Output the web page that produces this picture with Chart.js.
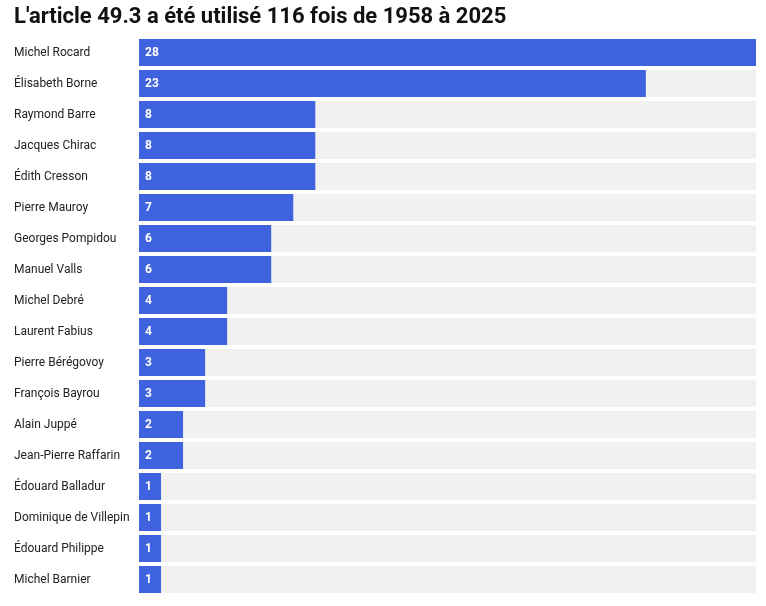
<!DOCTYPE html>
<html>
<head>
<meta charset="utf-8">
<script src="https://cdn.jsdelivr.net/npm/chart.js@4.4.1/dist/chart.umd.min.js"></script>
<style>
  html, body { margin: 0; padding: 0; background: #fff; }
  #wrap { width: 766px; height: 606px; }
</style>
</head>
<body>
<div id="wrap"><canvas id="chart"></canvas></div>
<script>
// Prime ministers and number of 49.3 uses
const names = [
    'Michel Rocard', 'Élisabeth Borne', 'Raymond Barre', 'Jacques Chirac',
    'Édith Cresson', 'Pierre Mauroy', 'Georges Pompidou', 'Manuel Valls',
    'Michel Debré', 'Laurent Fabius', 'Pierre Bérégovoy', 'François Bayrou',
    'Alain Juppé', 'Jean-Pierre Raffarin', 'Édouard Balladur',
    'Dominique de Villepin', 'Édouard Philippe', 'Michel Barnier'
];
const counts = [28, 23, 8, 8, 8, 7, 6, 6, 4, 4, 3, 3, 2, 2, 1, 1, 1, 1];
const maxValue = 28;

const titleText = "L'article 49.3 a été utilisé 116 fois de 1958 à 2025";
const barColor = '#3f62df';
const trackColor = '#f1f1f1';

// grey track behind every bar, full scale width
const trackPlugin = {
    id: 'track',
    beforeDatasetsDraw(chart) {
        const { ctx, scales: { x } } = chart;
        const meta = chart.getDatasetMeta(0);
        ctx.save();
        ctx.fillStyle = trackColor;
        meta.data.forEach(bar => {
            const left = x.getPixelForValue(0);
            const right = x.getPixelForValue(maxValue);
            ctx.fillRect(left, bar.y - bar.height / 2, right - left, bar.height);
        });
        ctx.restore();
    }
};

// value written inside the bar
const valuePlugin = {
    id: 'values',
    afterDatasetsDraw(chart) {
        const { ctx } = chart;
        const meta = chart.getDatasetMeta(0);
        ctx.save();
        ctx.fillStyle = '#ffffff';
        ctx.font = 'bold 12px Roboto';
        ctx.textBaseline = 'middle';
        ctx.textAlign = 'left';
        meta.data.forEach((bar, i) => {
            ctx.fillText(counts[i], bar.base + 6, bar.y + 0.5);
        });
        ctx.restore();
    }
};

new Chart(document.getElementById('chart'), {
    type: 'bar',
    data: {
        labels: names,
        datasets: [{
            data: counts,
            backgroundColor: barColor,
            borderWidth: 0,
            barPercentage: 1,
            categoryPercentage: 0.87
        }]
    },
    options: {
        indexAxis: 'y',
        responsive: true,
        maintainAspectRatio: false,
        animation: false,
        layout: {
            padding: { top: 0, left: 14, right: 10, bottom: 11 }
        },
        plugins: {
            legend: { display: false },
            tooltip: { enabled: false },
            title: {
                display: true,
                text: titleText,
                align: 'start',
                color: '#111',
                font: { family: 'Roboto', size: 22, weight: 'bold', lineHeight: 1.2 },
                padding: { top: 4, bottom: 6.6 }
            }
        },
        scales: {
            x: {
                display: false,
                min: 0,
                max: maxValue
            },
            y: {
                grid: { display: false, drawTicks: false },
                border: { display: false },
                afterFit(scale) { scale.width = 125; },
                ticks: {
                    crossAlign: 'far',
                    padding: 0,
                    color: '#222',
                    font: { family: 'Roboto', size: 12 }
                }
            }
        }
    },
    plugins: [trackPlugin, valuePlugin]
});
</script>
</body>
</html>
